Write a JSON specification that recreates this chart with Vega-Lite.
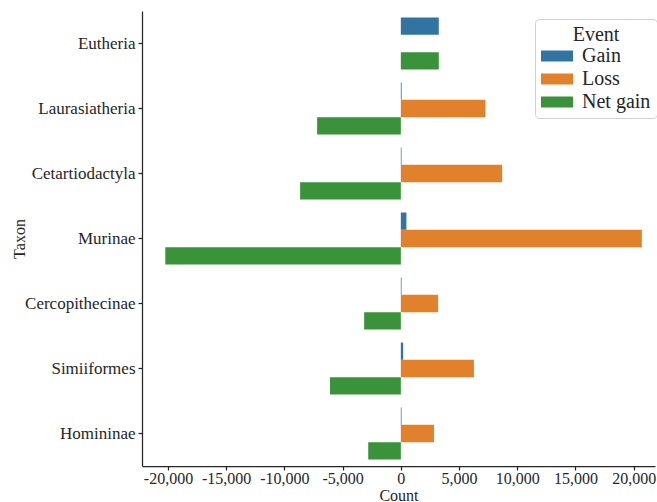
{
  "$schema": "https://vega.github.io/schema/vega-lite/v6.json",
  "autosize": {"type": "none"},
  "padding": {"left": 142, "top": 11, "right": 2, "bottom": 36},
  "width": 513,
  "height": 455,
  "background": "white",
  "config": {
    "font": "Liberation Serif",
    "view": {"stroke": null},
    "axis": {
      "domainColor": "#262626",
      "domainWidth": 1.25,
      "tickColor": "#262626",
      "tickWidth": 1.25,
      "tickSize": 4,
      "labelColor": "#262626",
      "titleColor": "#262626",
      "labelFont": "Liberation Serif",
      "titleFont": "Liberation Serif",
      "labelFontSize": 16,
      "titleFontSize": 16,
      "titleFontWeight": "normal",
      "grid": false
    }
  },
  "data": {
    "values": [
      {"Taxon": "Eutheria", "Event": "Gain", "Count": 3260},
      {"Taxon": "Eutheria", "Event": "Loss", "Count": 0},
      {"Taxon": "Eutheria", "Event": "Net gain", "Count": 3260},
      {"Taxon": "Laurasiatheria", "Event": "Gain", "Count": 70},
      {"Taxon": "Laurasiatheria", "Event": "Loss", "Count": 7260},
      {"Taxon": "Laurasiatheria", "Event": "Net gain", "Count": -7190},
      {"Taxon": "Cetartiodactyla", "Event": "Gain", "Count": 60},
      {"Taxon": "Cetartiodactyla", "Event": "Loss", "Count": 8700},
      {"Taxon": "Cetartiodactyla", "Event": "Net gain", "Count": -8650},
      {"Taxon": "Murinae", "Event": "Gain", "Count": 480},
      {"Taxon": "Murinae", "Event": "Loss", "Count": 20700},
      {"Taxon": "Murinae", "Event": "Net gain", "Count": -20230},
      {"Taxon": "Cercopithecinae", "Event": "Gain", "Count": 60},
      {"Taxon": "Cercopithecinae", "Event": "Loss", "Count": 3200},
      {"Taxon": "Cercopithecinae", "Event": "Net gain", "Count": -3150},
      {"Taxon": "Simiiformes", "Event": "Gain", "Count": 200},
      {"Taxon": "Simiiformes", "Event": "Loss", "Count": 6280},
      {"Taxon": "Simiiformes", "Event": "Net gain", "Count": -6080},
      {"Taxon": "Homininae", "Event": "Gain", "Count": 60},
      {"Taxon": "Homininae", "Event": "Loss", "Count": 2850},
      {"Taxon": "Homininae", "Event": "Net gain", "Count": -2800}
    ]
  },
  "mark": {"type": "bar"},
  "encoding": {
    "y": {
      "field": "Taxon",
      "type": "nominal",
      "sort": ["Eutheria", "Laurasiatheria", "Cetartiodactyla", "Murinae", "Cercopithecinae", "Simiiformes", "Homininae"],
      "scale": {"paddingInner": 0.2, "paddingOuter": 0.1},
      "axis": {"title": "Taxon", "labelPadding": 3, "labelFontSize": 17, "titleX": -123, "titleBaseline": "middle"}
    },
    "yOffset": {
      "field": "Event",
      "type": "nominal",
      "sort": ["Gain", "Loss", "Net gain"],
      "scale": {"paddingInner": 0, "paddingOuter": 0}
    },
    "x": {
      "field": "Count",
      "type": "quantitative",
      "scale": {"domain": [-22230, 21830], "nice": false, "zero": false},
      "axis": {
        "title": "Count",
        "values": [-20000, -15000, -10000, -5000, 0, 5000, 10000, 15000, 20000],
        "labelExpr": "replace(format(datum.value, ','), '\u2212', '-')",
        "labelPadding": 0,
        "titleY": 34,
        "titleBaseline": "alphabetic"
      }
    },
    "color": {
      "field": "Event",
      "type": "nominal",
      "sort": ["Gain", "Loss", "Net gain"],
      "scale": {"domain": ["Gain", "Loss", "Net gain"], "range": ["#3274a1", "#e1812c", "#3a923a"]},
      "legend": {
        "title": "Event",
        "orient": "none",
        "legendX": 393,
        "legendY": 8,
        "titleFontSize": 20,
        "titleFontWeight": "normal",
        "titleColor": "#262626",
        "titleAnchor": "middle",
        "titleAlign": "center",
        "titlePadding": 1,
        "labelFontSize": 20,
        "labelColor": "#262626",
        "labelOffset": 15,
        "symbolOffset": 6,
        "symbolType": "M-1.6,-0.55L1.6,-0.55L1.6,0.55L-1.6,0.55Z",
        "symbolSize": 400,
        "symbolStrokeWidth": 0,
        "rowPadding": 3,
        "padding": 6,
        "fillColor": "white",
        "strokeColor": "#d0d0d0",
        "cornerRadius": 4
      }
    }
  }
}
